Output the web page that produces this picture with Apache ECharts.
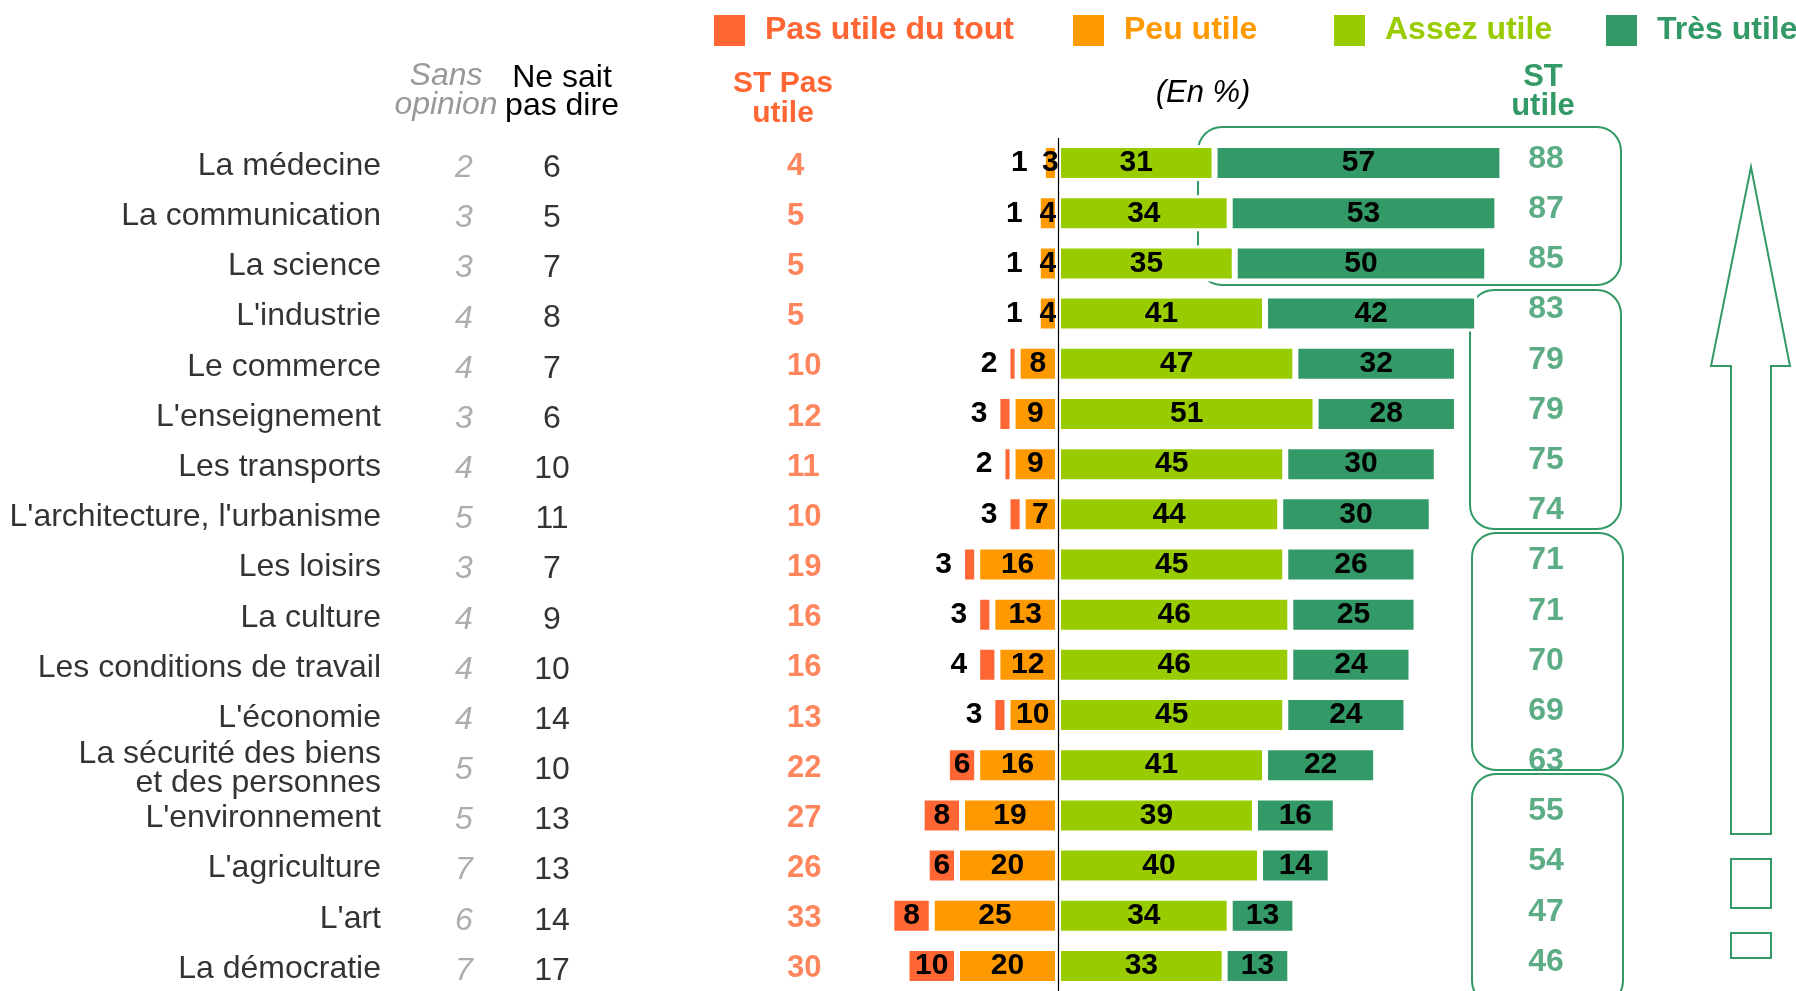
<!DOCTYPE html>
<html>
<head>
<meta charset="utf-8">
<script src="https://cdn.jsdelivr.net/npm/echarts@6/dist/echarts.min.js"></script>
<style>
  html, body { margin: 0; padding: 0; background: #fff; }
  #main { width: 1796px; height: 991px; }
</style>
</head>
<body>
<div id="main"></div>
<script>
// values (rows top to bottom)
var domaines = [
  "La médecine", "La communication", "La science", "L'industrie", "Le commerce",
  "L'enseignement", "Les transports", "L'architecture, l'urbanisme", "Les loisirs",
  "La culture", "Les conditions de travail", "L'économie",
  "La sécurité des biens\net des personnes", "L'environnement", "L'agriculture",
  "L'art", "La démocratie"
];
var sansOpinion = [2, 3, 3, 4, 4, 3, 4, 5, 3, 4, 4, 4, 5, 5, 7, 6, 7];
var neSaitPas   = [6, 5, 7, 8, 7, 6, 10, 11, 7, 9, 10, 14, 10, 13, 13, 14, 17];
var stPasUtile  = [4, 5, 5, 5, 10, 12, 11, 10, 19, 16, 16, 13, 22, 27, 26, 33, 30];
var pasUtileDuTout = [1, 1, 1, 1, 2, 3, 2, 3, 3, 3, 4, 3, 6, 8, 6, 8, 10];
var peuUtile    = [3, 4, 4, 4, 8, 9, 9, 7, 16, 13, 12, 10, 16, 19, 20, 25, 20];
var assezUtile  = [31, 34, 35, 41, 47, 51, 45, 44, 45, 46, 46, 45, 41, 39, 40, 34, 33];
var tresUtile   = [57, 53, 50, 42, 32, 28, 30, 30, 26, 25, 24, 24, 22, 16, 14, 13, 13];
var stUtile     = [88, 87, 85, 83, 79, 79, 75, 74, 71, 71, 70, 69, 63, 55, 54, 47, 46];

var C_PAS = "#FF6633", C_PEU = "#FF9900", C_ASSEZ = "#99CC00", C_TRES = "#339966";
var FONT = "Liberation Sans, Arial, sans-serif";

var chart = echarts.init(document.getElementById("main"));

var barLabel = { show: true, position: "inside", color: "#000", fontFamily: FONT, fontWeight: "bold", fontSize: 30 };
var barStyle = function (c) { return { color: c, borderColor: "#fff", borderWidth: 3 }; };

// column of text drawn in the full-width table grid
function column(values, x, label) {
  return {
    type: "scatter", xAxisIndex: 1, yAxisIndex: 1, symbolSize: 0, silent: true,
    data: values.map(function (v, i) { return [x, i, v]; }),
    label: Object.assign({ show: true, formatter: function (p) { return p.data[2]; }, fontFamily: FONT }, label)
  };
}

function legendAt(name, left, color) {
  return {
    data: [name], left: left, top: 13, padding: 0, itemWidth: 33, itemHeight: 33, icon: "rect",
    selectedMode: false,
    textStyle: { color: color, fontFamily: FONT, fontWeight: "bold", fontSize: 32, padding: [0, 0, 0, 14] }
  };
}

var option = {
  animation: false,
  legend: [
    legendAt("Pas utile du tout", 712, C_PAS),
    legendAt("Peu utile", 1071, C_PEU),
    legendAt("Assez utile", 1332, C_ASSEZ),
    legendAt("Très utile", 1604, C_TRES)
  ],
  grid: [
    { left: 856, width: 707, top: 138, height: 854 },
    { left: 0, width: 1796, top: 138, height: 854 }
  ],
  xAxis: [
    { type: "value", gridIndex: 0, min: -40, max: 100, show: false },
    { type: "value", gridIndex: 1, min: 0, max: 1796, show: false }
  ],
  yAxis: [
    { type: "category", gridIndex: 0, data: domaines, inverse: true, show: false },
    { type: "category", gridIndex: 1, data: domaines, inverse: true, show: false }
  ],
  graphic: [
    { type: "rect", z: 0, shape: { x: 1198, y: 127, width: 423, height: 158, r: 24 }, style: { fill: null, stroke: C_TRES, lineWidth: 2 } },
    { type: "rect", z: 0, shape: { x: 1470, y: 290, width: 151, height: 239, r: 24 }, style: { fill: null, stroke: C_TRES, lineWidth: 2 } },
    { type: "rect", z: 0, shape: { x: 1472, y: 533, width: 151, height: 237, r: 24 }, style: { fill: null, stroke: C_TRES, lineWidth: 2 } },
    { type: "rect", z: 0, shape: { x: 1472, y: 774, width: 151, height: 231, r: 24 }, style: { fill: null, stroke: C_TRES, lineWidth: 2 } },
    { type: "polygon", z: 0, shape: { points: [[1751, 167], [1790, 366], [1771, 366], [1771, 834], [1731, 834], [1731, 366], [1711, 366]] }, style: { fill: null, stroke: C_TRES, lineWidth: 2 } },
    { type: "rect", z: 0, shape: { x: 1731, y: 859, width: 40, height: 49 }, style: { fill: null, stroke: C_TRES, lineWidth: 2 } },
    { type: "rect", z: 0, shape: { x: 1731, y: 933, width: 40, height: 25 }, style: { fill: null, stroke: C_TRES, lineWidth: 2 } },
    { type: "text", x: 446, y: 62, style: { text: "Sans\nopinion", fill: "#999", font: "italic 32px " + FONT, lineHeight: 29, align: "center", verticalAlign: "top" } },
    { type: "text", x: 562, y: 64, style: { text: "Ne sait\npas dire", fill: "#000", font: "32px " + FONT, lineHeight: 28, align: "center", verticalAlign: "top" } },
    { type: "text", x: 783, y: 69, style: { text: "ST Pas\nutile", fill: C_PAS, font: "bold 30px " + FONT, lineHeight: 30, align: "center", verticalAlign: "top" } },
    { type: "text", x: 1203, y: 93, style: { text: "(En %)", fill: "#000", font: "italic 31px " + FONT, align: "center", verticalAlign: "middle" } },
    { type: "text", x: 1543, y: 63, style: { text: "ST\nutile", fill: C_TRES, font: "bold 31px " + FONT, lineHeight: 29, align: "center", verticalAlign: "top" } }
  ],
  series: [
    {
      name: "Peu utile", type: "bar", stack: "total", barWidth: 36,
      itemStyle: barStyle(C_PEU), label: Object.assign({}, barLabel, { formatter: function (p) { return -p.value; } }),
      data: peuUtile.map(function (v) { return -v; })
    },
    {
      name: "Pas utile du tout", type: "bar", stack: "total", barWidth: 36,
      itemStyle: barStyle(C_PAS),
      label: Object.assign({}, barLabel, { formatter: function (p) { return -p.value; } }),
      data: pasUtileDuTout.map(function (v) {
        return v <= 4 ? { value: -v, label: { position: "left", distance: 10 } } : -v;
      })
    },
    {
      name: "Assez utile", type: "bar", stack: "total", barWidth: 36,
      itemStyle: barStyle(C_ASSEZ), label: barLabel, data: assezUtile,
      markLine: {
        silent: true, symbol: "none", label: { show: false },
        lineStyle: { color: "#000", width: 1.2, type: "solid" },
        data: [{ xAxis: 0 }]
      }
    },
    {
      name: "Très utile", type: "bar", stack: "total", barWidth: 36,
      itemStyle: barStyle(C_TRES), label: barLabel, data: tresUtile
    },
    column(domaines, 381, { position: "left", distance: 0, color: "#000", fontSize: 32, lineHeight: 29, offset: [0, 3] }),
    column(sansOpinion, 464, { position: "inside", color: "#999", fontStyle: "italic", fontSize: 32, offset: [0, 5] }),
    column(neSaitPas, 552, { position: "inside", color: "#000", fontSize: 32, offset: [0, 5] }),
    column(stPasUtile, 787, { position: "right", distance: 0, color: C_PAS, fontWeight: "bold", fontSize: 31, offset: [0, 3] }),
    column(stUtile, 1546, { position: "inside", color: C_TRES, fontWeight: "bold", fontSize: 32, offset: [0, -4] })
  ]
};

chart.setOption(option);
</script>
</body>
</html>
